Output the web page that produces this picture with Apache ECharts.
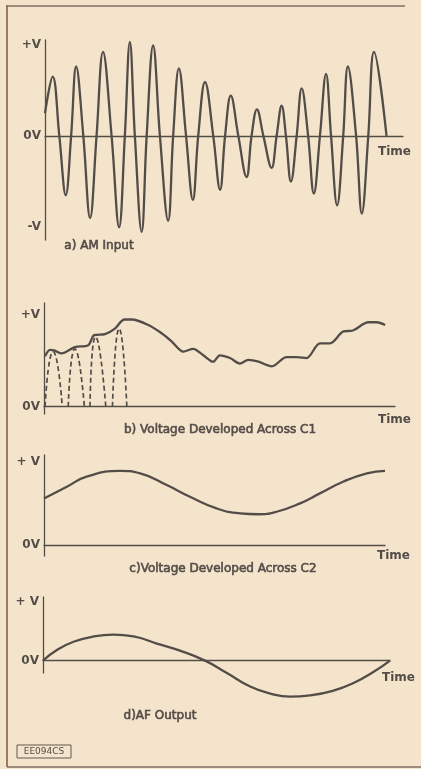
<!DOCTYPE html>
<html>
<head>
<meta charset="utf-8">
<script src="https://cdn.jsdelivr.net/npm/echarts@6/dist/echarts.min.js"></script>
<style>
html, body { margin: 0; padding: 0; background: #f5e4cc; }
#chart { width: 421px; height: 769px; }
</style>
</head>
<body>
<div id="chart"></div>
<script>
// a) AM input - carrier peaks, troughs and zero crossings
var amTime = [0, 2.15, 4.0, 5.8, 7.3, 8.7, 10.7, 12.6, 14.4, 16.2, 18.6, 20.7, 22.3, 23.7, 25.1, 27.0, 28.4, 30.2,
    32.1, 34.4, 35.8, 37.4, 39.4, 41.3, 42.8, 44.7, 47.0, 48.9, 50.3, 51.9, 54.0, 56.3, 57.7, 59.2, 61.0, 63.3,
    64.7, 66.1, 67.3, 68.7, 70.3, 71.7, 73.5, 75.1, 76.8, 78.5, 79.9, 81.6, 83.3, 84.6, 86.9, 88.5, 90.3, 91.9, 95.4];
var amVolts = [0.25, 0.65, 0, -0.65, 0, 0.76, 0, -0.90, 0, 0.92, 0, -1.0, 0, 1.03, 0, -1.05, 0, 0.99,
    0, -0.93, 0, 0.74, 0, -0.70, 0, 0.59, 0, -0.59, 0, 0.44, 0, -0.45, 0, 0.29, 0, -0.35,
    0, 0.33, 0, -0.50, 0, 0.52, 0, -0.63, 0, 0.68, 0, -0.76, 0, 0.76, 0, -0.85, 0, 0.92, 0];

// b) voltage across C1
var c1Time = [0.3, 1.7, 3.1, 5.0, 8.8, 12.6, 14.3, 17.4, 20.2, 22.9, 25.0, 29.7, 33.5, 36.4, 39.7, 42.5, 45.4,
    48.2, 50.1, 53.0, 55.8, 58.2, 61.1, 64.9, 69.1, 72.0, 74.8, 78.6, 81.5, 85.3, 88.0, 92.4, 94.8, 97.2];
var c1Volts = [0.55, 0.62, 0.61, 0.58, 0.65, 0.67, 0.78, 0.79, 0.85, 0.95, 0.95, 0.89, 0.80, 0.71, 0.60, 0.63, 0.56,
    0.49, 0.56, 0.53, 0.47, 0.51, 0.49, 0.44, 0.54, 0.54, 0.53, 0.69, 0.69, 0.82, 0.83, 0.92, 0.92, 0.89];
// dashed charging pulses
var pulseStart = [0.3, 6.9, 13.1, 19.5];
var pulsePeak = [2.6, 8.8, 14.7, 21.4];
var pulseEnd = [5.2, 11.5, 17.6, 23.6];
var pulseVolts = [0.60, 0.63, 0.76, 0.85];

// c) voltage across C2
var c2Time = [0, 6.7, 12.5, 22.3, 28.2, 36.0, 42.8, 50.6, 57.5, 62.8, 68.2, 75.1, 80.9, 87.7, 94.7, 100];
var c2Volts = [0.56, 0.70, 0.82, 0.89, 0.86, 0.72, 0.58, 0.44, 0.38, 0.37, 0.40, 0.50, 0.62, 0.76, 0.86, 0.89];

// d) AF output
var afTime = [0, 4.0, 8.8, 14.6, 20.3, 26.1, 32.8, 39.5, 46.7, 53.0, 59.7, 65.5, 71.2, 77.0, 83.7, 89.5, 95.3, 100];
var afVolts = [0, 0.18, 0.32, 0.41, 0.44, 0.41, 0.29, 0.17, 0, -0.21, -0.44, -0.56, -0.61, -0.59, -0.51, -0.38, -0.19, 0];

// tick labels
var amTicks = [1, 0, -1];
var amLabels = ['+V', '0V', '-V'];
var posTicks = [1, 0];
var posLabels = ['+V', '0V'];
var posLabelsSpaced = ['+ V', '0V'];

var captions = ['a) AM Input', 'b) Voltage Developed Across C1', 'c)Voltage Developed Across C2', 'd)AF Output'];

var ink = '#534d48';
var font = 'DejaVu Sans';

function pairs(t, v) {
    return t.map(function (x, i) { return [x, v[i]]; });
}

function xAx(idx, gap, pad) {
    return {
        type: 'value', gridIndex: idx, min: 0, max: 100,
        axisLine: { onZero: true, lineStyle: { color: ink, width: 1.3 } },
        axisTick: { show: false }, axisLabel: { show: false }, splitLine: { show: false },
        name: 'Time', nameLocation: 'end', nameGap: gap,
        nameTextStyle: { color: ink, fontFamily: font, fontSize: 12, fontWeight: 'bold',
            align: 'left', verticalAlign: 'top', padding: [pad, 0, 0, 0] }
    };
}

function yAx(idx, min, max, ticks, labels) {
    return {
        type: 'value', gridIndex: idx, min: min, max: max,
        axisLine: { show: true, lineStyle: { color: ink, width: 1.3 } },
        axisTick: { show: false }, splitLine: { show: false },
        axisLabel: {
            customValues: ticks, margin: 4,
            color: ink, fontFamily: font, fontSize: 12, fontWeight: 'bold',
            formatter: function (v) { return labels[ticks.indexOf(v)]; }
        }
    };
}

function line(idx, data, smooth, dashed) {
    return {
        type: 'line', xAxisIndex: idx, yAxisIndex: idx, data: data,
        showSymbol: false, smooth: smooth, clip: false, silent: true,
        lineStyle: { color: ink, width: dashed ? 1.7 : 2.3, type: dashed ? [5, 3] : 'solid' }
    };
}

var series = [
    line(0, pairs(amTime, amVolts), 0.4),
    line(1, pairs(c1Time, c1Volts), 0.3),
    line(2, pairs(c2Time, c2Volts), 0.5),
    line(3, pairs(afTime, afVolts), 0.5)
];
pulseStart.forEach(function (s, i) {
    series.push(line(1, [[s, 0], [pulsePeak[i], pulseVolts[i]], [pulseEnd[i], 0]], 0.6, true));
});

function caption(text, x, y) {
    return { text: text, left: x, top: y, textAlign: 'center', padding: 0,
        textStyle: { color: ink, fontFamily: font, fontSize: 12, fontWeight: 'normal',
            textBorderColor: ink, textBorderWidth: 0.6 } };
}

var chart = echarts.init(document.getElementById('chart'));
chart.setOption({
    backgroundColor: '#f5e4cc',
    animation: false,
    title: [
        caption(captions[0], 99, 240),
        caption(captions[1], 220, 424),
        caption(captions[2], 223, 563),
        caption(captions[3], 160, 710)
    ],
    grid: [
        { left: 45, top: 40, width: 358, height: 200 },
        { left: 44, top: 303, width: 351, height: 111 },
        { left: 44, top: 455, width: 341, height: 101 },
        { left: 43, top: 597, width: 347, height: 76 }
    ],
    xAxis: [xAx(0, -25, 10), xAx(1, -17, 7), xAx(2, -8, 5), xAx(3, -8, 11)],
    yAxis: [
        yAx(0, -1.14, 1.05, amTicks, amLabels),
        yAx(1, -0.08, 1.13, posTicks, posLabels),
        yAx(2, -0.13, 1.08, posTicks, posLabelsSpaced),
        yAx(3, -0.21, 1.08, posTicks, posLabelsSpaced)
    ],
    series: series,
    graphic: [
        { type: 'line', shape: { x1: 7, y1: 5, x2: 7, y2: 767 }, style: { stroke: '#9a7a60', lineWidth: 2 } },
        { type: 'line', shape: { x1: 7, y1: 6, x2: 405, y2: 6 }, style: { stroke: '#7e7167', lineWidth: 1.5 } },
        { type: 'line', shape: { x1: 7, y1: 767, x2: 421, y2: 767 }, style: { stroke: '#7e7167', lineWidth: 1.5 } },
        { type: 'rect', shape: { x: 17, y: 745, width: 54, height: 13 }, style: { stroke: '#5f5852', fill: 'none', lineWidth: 1 } },
        { type: 'text', x: 44, y: 751.5, style: { text: 'EE094CS', fill: ink, font: '9px "DejaVu Sans"',
            textAlign: 'center', textVerticalAlign: 'middle' } }
    ]
});
</script>
</body>
</html>
